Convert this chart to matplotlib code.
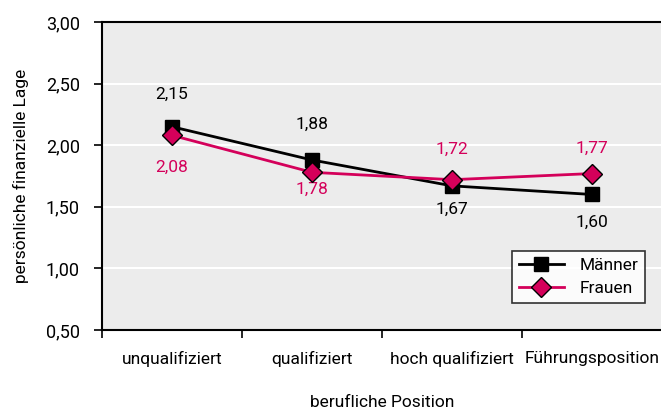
import matplotlib
matplotlib.use("Agg")
import matplotlib.pyplot as plt

plt.rcParams['font.family'] = ['Roboto', 'DejaVu Sans']

categories = ['unqualifiziert', 'qualifiziert', 'hoch qualifiziert', 'Führungsposition']
maenner = [2.15, 1.88, 1.67, 1.60]
frauen = [2.08, 1.78, 1.72, 1.77]
# vertical offsets of the value labels (points)
maenner_off = [23, 26, -17, -20]
frauen_off = [-23, -12, 22, 18]

pink = '#d4005a'
fs = 12.5

fig = plt.figure(figsize=(6.61, 4.12), dpi=100)
ax = fig.add_axes([102/661, 82/412, 560/661, 308/412])
ax.set_facecolor('#ececec')

x = list(range(len(categories)))
ax.plot(x, maenner, color='black', lw=2, marker='s', ms=10, mfc='black', mec='black',
        label='Männer', zorder=3)
ax.plot(x, frauen, color=pink, lw=2, marker='D', ms=10, mfc=pink, mec='black', mew=1,
        label='Frauen', zorder=4)

for xi, v, off in zip(x, maenner, maenner_off):
    ax.annotate(f'{v:.2f}'.replace('.', ','), (xi, v), xytext=(0, off),
                textcoords='offset points', ha='center', va='center', fontsize=fs, color='black')
for xi, v, off in zip(x, frauen, frauen_off):
    ax.annotate(f'{v:.2f}'.replace('.', ','), (xi, v), xytext=(0, off),
                textcoords='offset points', ha='center', va='center', fontsize=fs, color=pink)

ax.set_xlim(-0.5, 3.5)
ax.set_ylim(0.5, 3.0)
ax.set_yticks([0.5, 1.0, 1.5, 2.0, 2.5, 3.0])
ax.set_yticklabels(['0,50', '1,00', '1,50', '2,00', '2,50', '3,00'], fontsize=13)
ax.yaxis.grid(True, color='white', lw=1.5)
ax.set_axisbelow(True)

ax.set_xticks([-0.5, 0.5, 1.5, 2.5, 3.5])
ax.set_xticklabels([])
ax.set_xticks(x, minor=True)
ax.set_xticklabels(categories, minor=True, fontsize=fs)
ax.tick_params(axis='x', which='minor', length=0, pad=15)
ax.tick_params(axis='x', which='major', length=6, width=1.2, direction='out')
ax.tick_params(axis='y', length=6, width=1.2, direction='out', pad=10)

for s in ['left', 'bottom', 'top']:
    ax.spines[s].set_linewidth(1.5)
ax.spines['right'].set_visible(False)

ax.set_xlabel('berufliche Position', fontsize=fs, labelpad=20)
ax.set_ylabel('persönliche finanzielle Lage', fontsize=fs, labelpad=12)

leg = ax.legend(loc='lower right', bbox_to_anchor=(0.97, 0.088), fontsize=fs, frameon=True,
                fancybox=False, edgecolor='black', facecolor='white', handlelength=2.6,
                borderpad=0.4, labelspacing=0.45, handletextpad=0.9, borderaxespad=0)
leg.get_frame().set_linewidth(1.2)

fig.savefig('out.png', dpi=100)
